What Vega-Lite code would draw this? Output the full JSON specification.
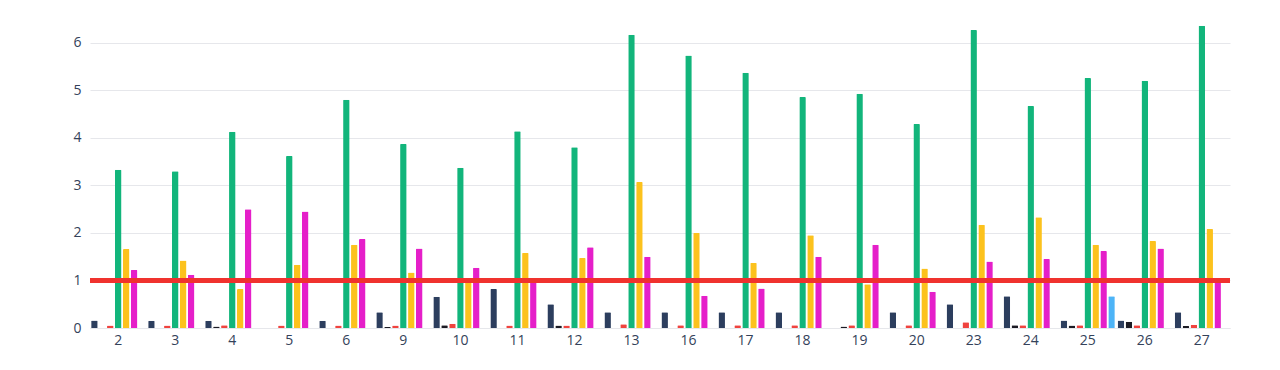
{
  "$schema": "https://vega.github.io/schema/vega-lite/v6.json",
  "autosize": {"type": "none"},
  "padding": {"left": 90, "top": 0, "right": 50, "bottom": 42},
  "width": 1140,
  "height": 328,
  "background": "#ffffff",
  "config": {
    "view": {"stroke": null},
    "font": "Open Sans",
    "axis": {"labelFont": "Open Sans", "labelColor": "#34425a", "labelFontSize": 14}
  },
  "data": {"values": [
    {"d":"2","s":"navy","v":0.16},{"d":"2","s":"black","v":0},{"d":"2","s":"red","v":0.05},{"d":"2","s":"green","v":3.33},{"d":"2","s":"yellow","v":1.66},{"d":"2","s":"magenta","v":1.22},{"d":"2","s":"blue","v":0},
    {"d":"3","s":"navy","v":0.15},{"d":"3","s":"black","v":0},{"d":"3","s":"red","v":0.05},{"d":"3","s":"green","v":3.3},{"d":"3","s":"yellow","v":1.42},{"d":"3","s":"magenta","v":1.12},{"d":"3","s":"blue","v":0},
    {"d":"4","s":"navy","v":0.15},{"d":"4","s":"black","v":0.03},{"d":"4","s":"red","v":0.06},{"d":"4","s":"green","v":4.13},{"d":"4","s":"yellow","v":0.82},{"d":"4","s":"magenta","v":2.5},{"d":"4","s":"blue","v":0},
    {"d":"5","s":"navy","v":0},{"d":"5","s":"black","v":0},{"d":"5","s":"red","v":0.05},{"d":"5","s":"green","v":3.62},{"d":"5","s":"yellow","v":1.33},{"d":"5","s":"magenta","v":2.45},{"d":"5","s":"blue","v":0},
    {"d":"6","s":"navy","v":0.15},{"d":"6","s":"black","v":0},{"d":"6","s":"red","v":0.05},{"d":"6","s":"green","v":4.8},{"d":"6","s":"yellow","v":1.75},{"d":"6","s":"magenta","v":1.87},{"d":"6","s":"blue","v":0},
    {"d":"9","s":"navy","v":0.33},{"d":"9","s":"black","v":0.02},{"d":"9","s":"red","v":0.05},{"d":"9","s":"green","v":3.87},{"d":"9","s":"yellow","v":1.17},{"d":"9","s":"magenta","v":1.67},{"d":"9","s":"blue","v":0},
    {"d":"10","s":"navy","v":0.66},{"d":"10","s":"black","v":0.06},{"d":"10","s":"red","v":0.09},{"d":"10","s":"green","v":3.37},{"d":"10","s":"yellow","v":1.0},{"d":"10","s":"magenta","v":1.27},{"d":"10","s":"blue","v":0},
    {"d":"11","s":"navy","v":0.82},{"d":"11","s":"black","v":0},{"d":"11","s":"red","v":0.05},{"d":"11","s":"green","v":4.14},{"d":"11","s":"yellow","v":1.58},{"d":"11","s":"magenta","v":0.98},{"d":"11","s":"blue","v":0},
    {"d":"12","s":"navy","v":0.5},{"d":"12","s":"black","v":0.05},{"d":"12","s":"red","v":0.05},{"d":"12","s":"green","v":3.8},{"d":"12","s":"yellow","v":1.47},{"d":"12","s":"magenta","v":1.7},{"d":"12","s":"blue","v":0},
    {"d":"13","s":"navy","v":0.33},{"d":"13","s":"black","v":0},{"d":"13","s":"red","v":0.08},{"d":"13","s":"green","v":6.17},{"d":"13","s":"yellow","v":3.07},{"d":"13","s":"magenta","v":1.5},{"d":"13","s":"blue","v":0},
    {"d":"16","s":"navy","v":0.33},{"d":"16","s":"black","v":0},{"d":"16","s":"red","v":0.06},{"d":"16","s":"green","v":5.73},{"d":"16","s":"yellow","v":2.0},{"d":"16","s":"magenta","v":0.68},{"d":"16","s":"blue","v":0},
    {"d":"17","s":"navy","v":0.33},{"d":"17","s":"black","v":0},{"d":"17","s":"red","v":0.06},{"d":"17","s":"green","v":5.37},{"d":"17","s":"yellow","v":1.37},{"d":"17","s":"magenta","v":0.83},{"d":"17","s":"blue","v":0},
    {"d":"18","s":"navy","v":0.33},{"d":"18","s":"black","v":0},{"d":"18","s":"red","v":0.06},{"d":"18","s":"green","v":4.86},{"d":"18","s":"yellow","v":1.95},{"d":"18","s":"magenta","v":1.5},{"d":"18","s":"blue","v":0},
    {"d":"19","s":"navy","v":0},{"d":"19","s":"black","v":0.03},{"d":"19","s":"red","v":0.06},{"d":"19","s":"green","v":4.93},{"d":"19","s":"yellow","v":0.92},{"d":"19","s":"magenta","v":1.75},{"d":"19","s":"blue","v":0},
    {"d":"20","s":"navy","v":0.33},{"d":"20","s":"black","v":0},{"d":"20","s":"red","v":0.06},{"d":"20","s":"green","v":4.29},{"d":"20","s":"yellow","v":1.25},{"d":"20","s":"magenta","v":0.76},{"d":"20","s":"blue","v":0},
    {"d":"23","s":"navy","v":0.5},{"d":"23","s":"black","v":0},{"d":"23","s":"red","v":0.12},{"d":"23","s":"green","v":6.27},{"d":"23","s":"yellow","v":2.17},{"d":"23","s":"magenta","v":1.4},{"d":"23","s":"blue","v":0},
    {"d":"24","s":"navy","v":0.67},{"d":"24","s":"black","v":0.06},{"d":"24","s":"red","v":0.06},{"d":"24","s":"green","v":4.67},{"d":"24","s":"yellow","v":2.33},{"d":"24","s":"magenta","v":1.45},{"d":"24","s":"blue","v":0},
    {"d":"25","s":"navy","v":0.16},{"d":"25","s":"black","v":0.05},{"d":"25","s":"red","v":0.06},{"d":"25","s":"green","v":5.26},{"d":"25","s":"yellow","v":1.75},{"d":"25","s":"magenta","v":1.62},{"d":"25","s":"blue","v":0.67},
    {"d":"26","s":"navy","v":0.16},{"d":"26","s":"black","v":0.13},{"d":"26","s":"red","v":0.06},{"d":"26","s":"green","v":5.2},{"d":"26","s":"yellow","v":1.83},{"d":"26","s":"magenta","v":1.67},{"d":"26","s":"blue","v":0},
    {"d":"27","s":"navy","v":0.33},{"d":"27","s":"black","v":0.04},{"d":"27","s":"red","v":0.07},{"d":"27","s":"green","v":6.36},{"d":"27","s":"yellow","v":2.08},{"d":"27","s":"magenta","v":1.0},{"d":"27","s":"blue","v":0}
  ]},
  "layer": [
    {
      "mark": {"type": "bar", "cornerRadiusTopLeft": 1, "cornerRadiusTopRight": 1},
      "encoding": {
        "x": {
          "field": "d", "type": "ordinal", "sort": null,
          "scale": {"paddingInner": 0.05, "paddingOuter": 0.02},
          "axis": {"title": null, "labelAngle": 0, "ticks": false, "labelPadding": 5, "domainColor": "#e6e7eb", "domainWidth": 1, "grid": false}
        },
        "xOffset": {
          "field": "s", "type": "nominal",
          "scale": {"domain": ["navy","black","red","green","yellow","magenta","blue"], "paddingInner": 0.18}
        },
        "y": {
          "field": "v", "type": "quantitative",
          "scale": {"domain": [0, 6.9], "nice": false},
          "axis": {"title": null, "values": [0,1,2,3,4,5,6], "ticks": false, "domain": false, "labelPadding": 9, "gridColor": "#e6e7eb", "gridWidth": 1}
        },
        "color": {
          "field": "s", "type": "nominal", "legend": null,
          "scale": {
            "domain": ["navy","black","red","green","yellow","magenta","blue"],
            "range": ["#2c3e5e","#1b1b24","#f0433f","#12b57b","#fcc21d","#e51fc9","#4db4f7"]
          }
        }
      }
    },
    {
      "mark": {"type": "rule", "color": "#f0322e", "strokeWidth": 5},
      "encoding": {"y": {"datum": 1}}
    }
  ]
}
